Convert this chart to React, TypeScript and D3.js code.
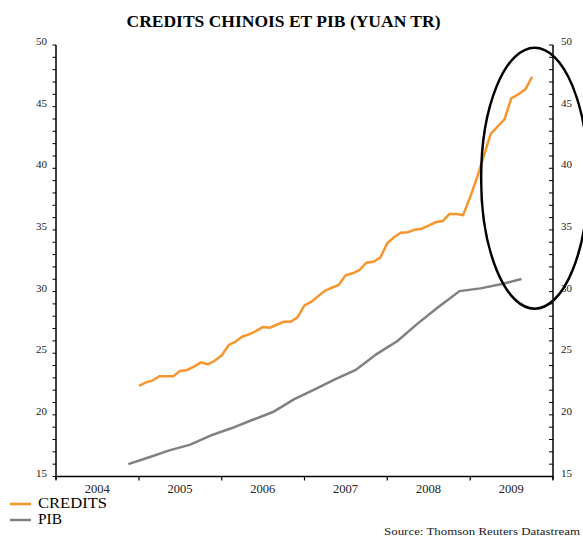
import React, { useEffect, useRef } from 'react'
import * as d3 from 'd3'

// encours de credits, mensuel, janv. 2005 -> oct. 2009 (yuan tr)
const creditValues = [
  22.36, 22.64, 22.77, 23.13, 23.13, 23.13, 23.56, 23.64, 23.91, 24.26, 24.1, 24.39,
  24.83, 25.67, 25.91, 26.34, 26.53, 26.8, 27.12, 27.07, 27.31, 27.55, 27.55, 27.91,
  28.88, 29.18, 29.61, 30.07, 30.31, 30.53, 31.32, 31.48, 31.75, 32.34, 32.42, 32.75,
  33.91, 34.42, 34.77, 34.81, 35.02, 35.1, 35.34, 35.62, 35.72, 36.29, 36.29, 36.21,
  37.69, 39.31, 40.94, 42.78, 43.37, 43.97, 45.67, 46.0, 46.4, 47.42
]

// PIB, trimestriel T4 2004 -> T3 2009
const pibQuarters = [
  '2004T4',
  '2005T1', '2005T2', '2005T3', '2005T4',
  '2006T1', '2006T2', '2006T3', '2006T4',
  '2007T1', '2007T2', '2007T3', '2007T4',
  '2008T1', '2008T2', '2008T3', '2008T4',
  '2009T1', '2009T2', '2009T3'
]
const pibValues = [
  16.0, 16.56, 17.12, 17.58, 18.34, 18.93, 19.58, 20.23, 21.26, 22.07,
  22.88, 23.64, 24.93, 25.99, 27.42, 28.77, 30.04, 30.26, 30.59, 31.02
]

const years = [2004, 2005, 2006, 2007, 2008, 2009]
const yTicks = [15, 20, 25, 30, 35, 40, 45, 50]

const title = 'CREDITS CHINOIS ET PIB (YUAN TR)'
const seriesNames = ['CREDITS', 'PIB']
const source = 'Source: Thomson Reuters Datastream'

const ORANGE = '#f7962f'
const GREY = '#808080'
const FONT = '"Liberation Serif", "DejaVu Serif", serif'

export default function App() {
  const ref = useRef<SVGSVGElement>(null)

  useEffect(() => {
    const width = 583
    const left = 56
    const right = 553
    const top = 45
    const bottom = 476.5

    const svg = d3.select(ref.current)
    svg.selectAll('*').remove()

    const x = d3.scaleTime()
      .domain([new Date(2004, 0, 1), new Date(2010, 0, 1)])
      .range([left, right])
    const y = d3.scaleLinear().domain([15, 50]).range([bottom, top])

    const creditDates = d3.timeMonth.range(new Date(2005, 0, 1), new Date(2009, 10, 1))
    const credits = creditValues.map((v, i) => ({ date: creditDates[i], value: v }))
    const pib = pibQuarters.map((q, i) => {
      const yr = +q.slice(0, 4)
      const qt = +q.slice(5)
      return { date: new Date(yr, (qt - 1) * 3 + 1, 15), value: pibValues[i] }
    })

    // title
    svg.append('text')
      .attr('x', width / 2 - 8)
      .attr('y', 27)
      .attr('text-anchor', 'middle')
      .attr('font-family', FONT)
      .attr('font-weight', 'bold')
      .attr('font-size', 16.5)
      .attr('textLength', 314)
      .attr('lengthAdjust', 'spacingAndGlyphs')
      .text(title)

    // axes
    const minor = d3.range(15, 51, 1)
    const axisG = svg.append('g').attr('stroke', '#000')
    axisG.append('line')
      .attr('x1', left).attr('x2', left)
      .attr('y1', top).attr('y2', bottom + 3)
      .attr('stroke-width', 1.5)
    axisG.append('line')
      .attr('x1', right).attr('x2', right)
      .attr('y1', top).attr('y2', bottom + 3)
      .attr('stroke-width', 1.5)
    axisG.append('line')
      .attr('x1', left).attr('x2', right)
      .attr('y1', bottom).attr('y2', bottom)
      .attr('stroke-width', 1.5)

    axisG.selectAll('.tl').data(minor).enter().append('line')
      .attr('x1', left - 3.5).attr('x2', left)
      .attr('y1', d => y(d)).attr('y2', d => y(d))
      .attr('stroke-width', 1)
    axisG.selectAll('.tr').data(minor).enter().append('line')
      .attr('x1', right - 4).attr('x2', right)
      .attr('y1', d => y(d)).attr('y2', d => y(d))
      .attr('stroke-width', 1)

    const yearBounds = d3.range(2004, 2011)
    axisG.selectAll('.tx').data(yearBounds).enter().append('line')
      .attr('x1', d => x(new Date(d, 0, 1))).attr('x2', d => x(new Date(d, 0, 1)))
      .attr('y1', bottom).attr('y2', bottom + 4)
      .attr('stroke-width', 1.2)

    svg.selectAll('.ly').data(yTicks).enter().append('text')
      .attr('x', 47)
      .attr('y', d => y(d))
      .attr('text-anchor', 'end')
      .attr('font-family', FONT)
      .attr('font-size', 11)
      .attr('fill', '#222')
      .text(d => d)
    svg.selectAll('.ry').data(yTicks).enter().append('text')
      .attr('x', 561)
      .attr('y', d => y(d))
      .attr('font-family', FONT)
      .attr('font-size', 11)
      .attr('fill', '#222')
      .text(d => d)

    svg.selectAll('.lx').data(years).enter().append('text')
      .attr('x', d => x(new Date(d, 6, 1)))
      .attr('y', 493)
      .attr('text-anchor', 'middle')
      .attr('font-family', FONT)
      .attr('font-size', 12.5)
      .attr('fill', '#222')
      .text(d => d)

    const line = d3.line<{ date: Date; value: number }>()
      .x(d => x(d.date))
      .y(d => y(d.value))

    svg.append('path')
      .datum(pib)
      .attr('d', line)
      .attr('fill', 'none')
      .attr('stroke', GREY)
      .attr('stroke-width', 2.5)
    svg.append('path')
      .datum(credits)
      .attr('d', line)
      .attr('fill', 'none')
      .attr('stroke', ORANGE)
      .attr('stroke-width', 2.5)

    // highlight ellipse around 2009
    svg.append('ellipse')
      .attr('cx', x(new Date(2009, 9, 1)) + 2.5)
      .attr('cy', y(39.2))
      .attr('rx', 53.5)
      .attr('ry', 130.5)
      .attr('fill', 'none')
      .attr('stroke', '#000')
      .attr('stroke-width', 2.5)

    // legend
    const legend = svg.append('g')
    const colors = [ORANGE, GREY]
    const widths = [69, 24]
    seriesNames.forEach((name, i) => {
      legend.append('line')
        .attr('x1', 10).attr('x2', 31)
        .attr('y1', 504 + i * 16).attr('y2', 504 + i * 16)
        .attr('stroke', colors[i])
        .attr('stroke-width', 2.5)
      legend.append('text')
        .attr('x', 38)
        .attr('y', 508 + i * 16)
        .attr('font-family', FONT)
        .attr('font-size', 14)
        .attr('textLength', widths[i])
        .attr('lengthAdjust', 'spacingAndGlyphs')
        .text(name)
    })

    svg.append('text')
      .attr('x', 580)
      .attr('y', 535)
      .attr('text-anchor', 'end')
      .attr('font-family', FONT)
      .attr('font-size', 11)
      .attr('fill', '#222')
      .attr('textLength', 196)
      .attr('lengthAdjust', 'spacingAndGlyphs')
      .text(source)
  }, [])

  return (
    <div style={{ position: 'absolute', left: 0, top: 0 }}>
      <svg ref={ref} width={583} height={538} style={{ display: 'block', background: '#fff' }} />
    </div>
  )
}
